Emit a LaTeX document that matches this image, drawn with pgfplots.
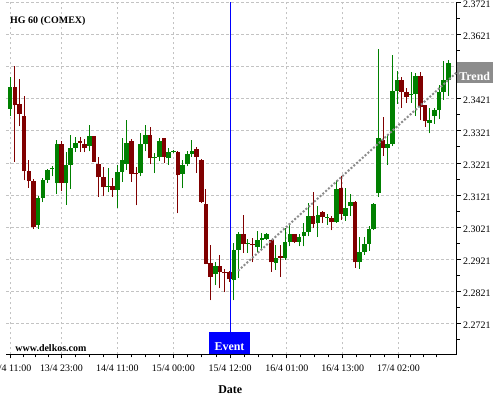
\documentclass[border=0pt]{standalone}
\usepackage{fontspec}
\setmainfont{Liberation Serif}
\usepackage{pgfplots}
\pgfplotsset{compat=1.18}
\usepackage{pgfplotstable}
\definecolor{cgreen}{RGB}{0,128,0}
\definecolor{cred}{RGB}{128,0,0}
\definecolor{cblue}{RGB}{0,0,255}
\definecolor{tgray}{RGB}{140,140,140}
\definecolor{boxgray}{RGB}{140,140,140}
\definecolor{gridgray}{RGB}{195,195,195}

% green (rising) candles: index, open, high, low, close
\pgfplotstableread{
x o h l c
0 2.3390 2.3488 2.3368 2.3458
6 2.3027 2.3117 2.3016 2.3111
7 2.3111 2.3174 2.3099 2.3169
8 2.3167 2.3201 2.3158 2.3200
9 2.3201 2.3210 2.3179 2.3204
10 2.3157 2.3291 2.3124 2.3281
12 2.3157 2.3254 2.3090 2.3215
13 2.3215 2.3308 2.3141 2.3268
14 2.3268 2.3303 2.3256 2.3284
17 2.3275 2.3339 2.3257 2.3305
21 2.3145 2.3205 2.3129 2.3150
23 2.3136 2.3214 2.3082 2.3194
24 2.3192 2.3298 2.3163 2.3231
25 2.3218 2.3356 2.3200 2.3284
28 2.3191 2.3314 2.3179 2.3280
29 2.3280 2.3340 2.3257 2.3309
31 2.3235 2.3251 2.3189 2.3241
32 2.3241 2.3298 2.3227 2.3290
34 2.3235 2.3267 2.3215 2.3256
35 2.3256 2.3262 2.3251 2.3259
37 2.3186 2.3231 2.3142 2.3215
38 2.3219 2.3257 2.3210 2.3249
39 2.3249 2.3293 2.3241 2.3257
44 2.2876 2.2913 2.2840 2.2900
48 2.2856 2.2972 2.2793 2.2950
49 2.2950 2.3007 2.2862 2.3000
51 2.2968 2.2984 2.2940 2.2971
53 2.2959 2.3009 2.2942 2.2981
54 2.2981 2.3004 2.2952 2.2986
55 2.2984 2.3004 2.2981 2.3000
57 2.2909 2.2965 2.2888 2.2925
59 2.2926 2.3019 2.2919 2.2975
60 2.2975 2.3030 2.2961 2.3000
62 2.2976 2.3000 2.2961 2.2991
63 2.2992 2.3033 2.2961 2.3007
64 2.3007 2.3096 2.2992 2.3056
66 2.3033 2.3088 2.2990 2.3060
68 2.3049 2.3063 2.3028 2.3053
70 2.3036 2.3169 2.3034 2.3141
72 2.3057 2.3143 2.3041 2.3081
73 2.3086 2.3124 2.3056 2.3100
75 2.2911 2.2990 2.2890 2.2944
76 2.2944 2.2990 2.2935 2.2969
77 2.2969 2.3023 2.2948 2.3016
78 2.3016 2.3096 2.3011 2.3092
79 2.3126 2.3577 2.3115 2.3300
81 2.3268 2.3310 2.3216 2.3281
82 2.3281 2.3556 2.3273 2.3444
83 2.3444 2.3506 2.3406 2.3481
86 2.3432 2.3504 2.3408 2.3435
87 2.3435 2.3500 2.3367 2.3492
90 2.3346 2.3393 2.3313 2.3356
91 2.3367 2.3393 2.3343 2.3385
92 2.3385 2.3465 2.3358 2.3442
93 2.3442 2.3538 2.3417 2.3481
94 2.3481 2.3542 2.3429 2.3531
}\greendata

% red (falling) candles: index, open, high, low, close
\pgfplotstableread{
x o h l c
1 2.3458 2.3523 2.3225 2.3400
2 2.3405 2.3482 2.3335 2.3375
3 2.3368 2.3430 2.3167 2.3195
4 2.3195 2.3231 2.3143 2.3166
5 2.3166 2.3170 2.3015 2.3021
11 2.3281 2.3290 2.3132 2.3157
15 2.3290 2.3303 2.3256 2.3283
16 2.3281 2.3297 2.3254 2.3269
18 2.3305 2.3306 2.3224 2.3225
19 2.3218 2.3241 2.3115 2.3176
20 2.3176 2.3208 2.3117 2.3145
22 2.3150 2.3174 2.3115 2.3136
26 2.3290 2.3296 2.3163 2.3186
27 2.3191 2.3207 2.3089 2.3186
30 2.3309 2.3332 2.3217 2.3235
33 2.3299 2.3300 2.3222 2.3241
36 2.3256 2.3257 2.3064 2.3182
40 2.3265 2.3272 2.3191 2.3241
41 2.3231 2.3232 2.3097 2.3100
42 2.3093 2.3139 2.2905 2.2907
43 2.2908 2.2964 2.2793 2.2867
45 2.2900 2.2933 2.2830 2.2881
46 2.2882 2.2890 2.2818 2.2877
47 2.2881 2.2885 2.2850 2.2858
50 2.3000 2.3060 2.2940 2.2968
52 2.2969 2.2987 2.2911 2.2965
56 2.2981 2.2982 2.2882 2.2911
58 2.2931 2.2965 2.2865 2.2926
61 2.3000 2.3001 2.2971 2.2975
65 2.3056 2.3129 2.3018 2.3031
67 2.3067 2.3070 2.3033 2.3051
69 2.3050 2.3056 2.3011 2.3036
71 2.3144 2.3179 2.3044 2.3061
74 2.3100 2.3101 2.2894 2.2911
80 2.3294 2.3365 2.3242 2.3268
84 2.3481 2.3490 2.3393 2.3442
85 2.3442 2.3455 2.3408 2.3427
88 2.3492 2.3504 2.3354 2.3395
89 2.3400 2.3401 2.3333 2.3351
}\reddata

\begin{document}
\begin{tikzpicture}
\begin{axis}[
  at={(6bp,45.5bp)}, anchor=south west,
  scale only axis, width=450.7bp, height=352bp,
  xmin=-0.9, xmax=95.8, ymin=2.2624, ymax=2.3721,
  axis x line*=bottom, axis y line*=right,
  axis line style={line width=1.2bp, black},
  tick align=outside, major tick length=4bp, minor tick length=3bp,
  every tick/.style={black, line width=0.8bp},
  xtick={0,11,23,35,47.2,59.35,71.35,83.3},
  xticklabels={12/4 11:00,13/4 23:00,14/4 11:00,15/4 00:00,15/4 12:00,16/4 01:00,16/4 13:00,17/4 02:00},
  minor xtick={2.75,5.5,8.25,14,17,20,26,29,32,38.05,41.1,44.15,50.2,53.3,56.3,62.35,65.35,68.35,74.3,77.3,80.3,85.8,88.7,91.5},
  ytick={2.2721,2.2821,2.2921,2.3021,2.3121,2.3221,2.3321,2.3421,2.3521,2.3621,2.3721},
  yticklabels={2.2721,2.2821,2.2921,2.3021,2.3121,2.3221,2.3321,2.3421,{},2.3621,2.3721},
  minor ytick={2.2671,2.2771,2.2871,2.2971,2.3071,2.3171,2.3271,2.3371,2.3471,2.3571,2.3671},
  grid=major,
  major grid style={gridgray, dash pattern=on 2.5bp off 2.5bp, line width=0.7bp},
  ticklabel style={font=\fontsize{10}{12}\selectfont},
  /pgf/number format/assume math mode=true,
  xticklabel style={yshift=-3bp},
  yticklabel style={yshift=-2bp, xshift=-1bp},
  clip=true,
]
% wicks
\addplot[draw=none, forget plot, error bars/.cd, y dir=plus, y explicit, error mark=none,
  error bar style={draw=cgreen, line width=1bp, solid}]
  table[x=x, y=l, y error plus expr=\thisrow{h}-\thisrow{l}] {\greendata};
\addplot[draw=none, forget plot, error bars/.cd, y dir=plus, y explicit, error mark=none,
  error bar style={draw=cred, line width=1bp, solid}]
  table[x=x, y=l, y error plus expr=\thisrow{h}-\thisrow{l}] {\reddata};
% bodies
\addplot[draw=none, forget plot, error bars/.cd, y dir=plus, y explicit, error mark=none,
  error bar style={draw=cgreen, line width=4.6bp, solid}]
  table[x=x, y=o, y error plus expr=\thisrow{c}-\thisrow{o}] {\greendata};
\addplot[draw=none, forget plot, error bars/.cd, y dir=plus, y explicit, error mark=none,
  error bar style={draw=cred, line width=4.6bp, solid}]
  table[x=x, y=c, y error plus expr=\thisrow{o}-\thisrow{c}] {\reddata};
% trend line
\addplot[tgray, line width=2bp, dash pattern=on 2bp off 1.8bp] coordinates {(48.9,2.2885) (95.8,2.3503)};
% event line
\addplot[cblue, line width=1bp] coordinates {(47.2,2.2624) (47.2,2.3721)};
\end{axis}
% annotations
\node[anchor=base west, inner sep=0, font=\bfseries\fontsize{10}{12}\selectfont] at (10bp,376bp) {HG 60 (COMEX)};
\node[anchor=base west, inner sep=0, font=\bfseries\fontsize{10}{12}\selectfont] at (15.3bp,48bp) {www.delkos.com};
\fill[cblue] (209bp,45.5bp) rectangle (250bp,68bp);
\node[anchor=base, inner sep=0, text=white, font=\bfseries\fontsize{12}{14}\selectfont] at (229.5bp,49.3bp) {Event};
\fill[boxgray] (456.7bp,316.7bp) rectangle (492.7bp,338bp);
\node[anchor=base, inner sep=0, text=white, font=\bfseries\fontsize{12}{14}\selectfont] at (474.7bp,319.5bp) {Trend};
\node[anchor=center, inner sep=0, font=\bfseries\fontsize{12}{14}\selectfont] at (230.3bp,10bp) {Date};
\pgfresetboundingbox
\path[use as bounding box] (0bp,0bp) rectangle (500bp,400bp);
\end{tikzpicture}
\end{document}
